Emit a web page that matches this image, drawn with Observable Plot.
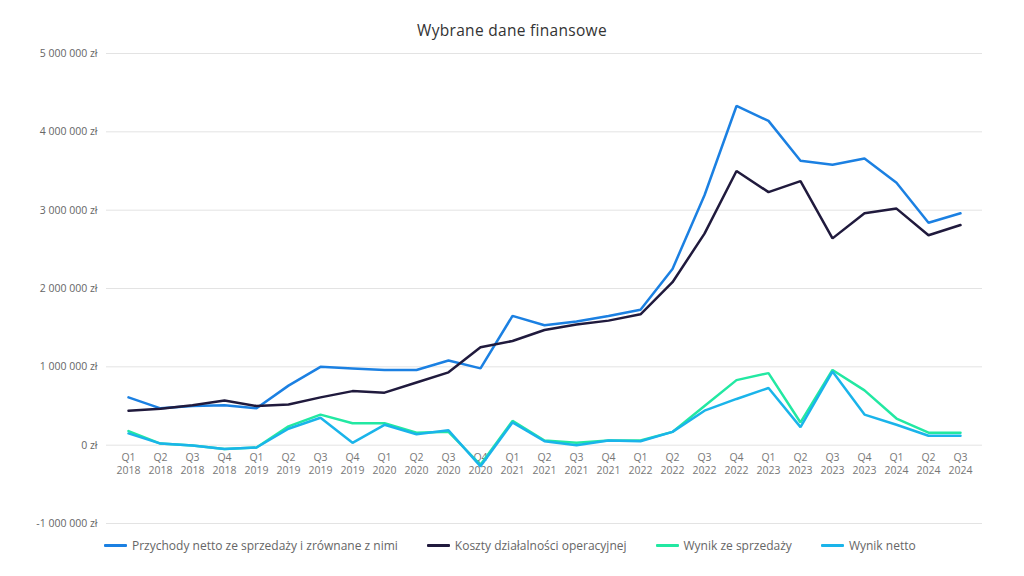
<!DOCTYPE html>
<html>
<head>
<meta charset="utf-8">
<script src="https://cdn.jsdelivr.net/npm/d3@7"></script>
<script src="https://cdn.jsdelivr.net/npm/@observablehq/plot@0.6"></script>
<style>
  html, body { margin: 0; padding: 0; background: #fff; }
  body { width: 1024px; height: 576px; overflow: hidden; font-family: "Open Sans", sans-serif; }
  #title { height: 44px; box-sizing: border-box; padding-top: 20px; text-align: center; font-size: 15.5px; line-height: 20px; color: #333; letter-spacing: 0.3px; }
  #legend { display: flex; gap: 29px; padding-left: 104px; font-size: 12px; color: #666; align-items: center; height: 20px; margin-top: 1px; }
  .item { display: flex; align-items: center; gap: 5px; white-space: nowrap; }
  .sw { width: 23px; height: 3px; border-radius: 1px; }
</style>
</head>
<body>
<div id="title">Wybrane dane finansowe</div>
<div id="chart"></div>
<div id="legend"></div>
<script>
const quarters = ["Q1","Q2","Q3","Q4","Q1","Q2","Q3","Q4","Q1","Q2","Q3","Q4","Q1","Q2","Q3","Q4","Q1","Q2","Q3","Q4","Q1","Q2","Q3","Q4","Q1","Q2","Q3"];
const years = ["2018","2018","2018","2018","2019","2019","2019","2019","2020","2020","2020","2020","2021","2021","2021","2021","2022","2022","2022","2022","2023","2023","2023","2023","2024","2024","2024"];
const categories = quarters.map((q, i) => q + "\n" + years[i]);

const seriesNames = ["Przychody netto ze sprzedaży i zrównane z nimi", "Koszty działalności operacyjnej", "Wynik ze sprzedaży", "Wynik netto"];
const seriesColors = ["#1b80e2", "#201a3d", "#22e8a2", "#1ab4ea"];

const przychody = [610000,470000,500000,510000,470000,760000,1000000,980000,960000,960000,1080000,980000,1650000,1530000,1580000,1650000,1730000,2250000,3190000,4330000,4140000,3630000,3580000,3660000,3350000,2840000,2960000];
const koszty = [440000,465000,510000,570000,500000,520000,610000,690000,670000,800000,930000,1250000,1330000,1470000,1540000,1590000,1670000,2080000,2700000,3500000,3230000,3370000,2640000,2960000,3020000,2680000,2810000];
const wynikSprzedazy = [180000,20000,-5000,-50000,-30000,240000,390000,280000,280000,160000,170000,-250000,310000,60000,30000,60000,60000,170000,500000,830000,920000,290000,960000,700000,340000,160000,160000];
const wynikNetto = [150000,20000,-5000,-50000,-30000,210000,350000,30000,260000,140000,190000,-270000,290000,50000,0,60000,50000,170000,440000,590000,730000,230000,940000,390000,260000,120000,120000];

const yTicks = [-1000000, 0, 1000000, 2000000, 3000000, 4000000, 5000000];

const allSeries = [przychody, koszty, wynikSprzedazy, wynikNetto];
const data = [];
allSeries.forEach((vals, s) => vals.forEach((v, i) => data.push({cat: categories[i], value: v, series: seriesNames[s]})));

const fmt = v => d3.format(",")(v).replace(/,/g, " ").replace("−", "-") + " zł";

const chart = Plot.plot({
  width: 1024,
  height: 490,
  marginTop: 9,
  marginBottom: 11,
  marginLeft: 106,
  marginRight: 42,
  style: {fontFamily: "'Open Sans', sans-serif", fontSize: "10px", color: "#666", background: "#fff"},
  x: {type: "point", domain: categories, padding: 0.5, axis: null},
  y: {domain: [-1000000, 5000000], ticks: yTicks, tickFormat: fmt, label: null},
  color: {domain: seriesNames, range: seriesColors},
  marks: [
    Plot.gridY(yTicks, {stroke: "#e3e3e3", strokeOpacity: 1, strokeWidth: 1}),
    Plot.axisY(yTicks, {tickSize: 0, tickPadding: 9, tickFormat: fmt, label: null, fill: "#666", fontSize: 10.5}),
    Plot.text(categories, {x: d => d, y: 0, text: d => d, dy: 7, lineAnchor: "top", fill: "#777", fontSize: 10.5, lineHeight: 1.2}),
    Plot.line(data, {x: "cat", y: "value", z: "series", stroke: "series", strokeWidth: 2.5, strokeLinejoin: "miter"})
  ]
});
document.getElementById("chart").appendChild(chart);

const legend = document.getElementById("legend");
seriesNames.forEach((name, i) => {
  const it = document.createElement("div");
  it.className = "item";
  const sw = document.createElement("div");
  sw.className = "sw";
  sw.style.background = seriesColors[i];
  const t = document.createElement("span");
  t.textContent = name;
  it.appendChild(sw); it.appendChild(t);
  legend.appendChild(it);
});
</script>
</body>
</html>
